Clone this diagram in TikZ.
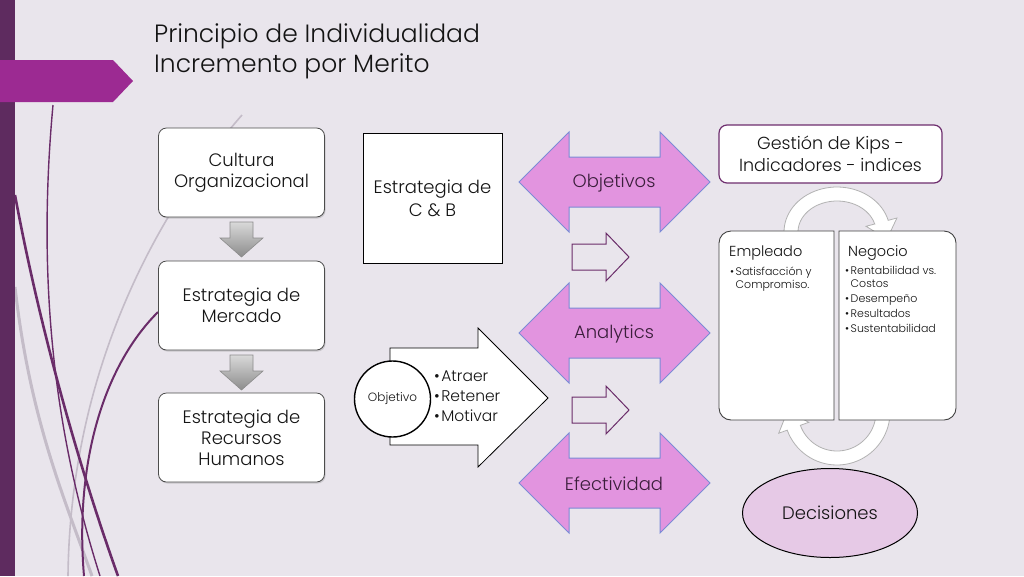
\documentclass[tikz,border=0pt]{standalone}
\usepackage{fontspec}
\setmainfont{Poppins}[UprightFont=* Light, BoldFont=* Regular]
\usetikzlibrary{shadows,shapes.geometric}
\definecolor{bg}{HTML}{E9E5EC}
\definecolor{bar}{HTML}{5E2B5F}
\definecolor{banner}{HTML}{9C2A92}
\definecolor{pinkf}{HTML}{E294DF}
\definecolor{pinkb}{HTML}{7B8BD6}
\definecolor{dtext}{HTML}{3B1E3B}
\definecolor{gestb}{HTML}{6E2E6E}
\definecolor{curvep}{HTML}{6A2C69}
\definecolor{curveg}{HTML}{C4BCC8}
\definecolor{decf}{HTML}{E6C9E6}
\definecolor{txt}{HTML}{141414}
\newcommand\myfs[2]{\fontsize{#1}{#2}\selectfont}
\newcommand\bul{\textbullet\hspace{1.5pt}}
\begin{document}
\begin{tikzpicture}[x=1pt,y=-1pt,
  flowbox/.style={draw=black!70, fill=white, rounded corners=8pt, minimum width=166pt,
    minimum height=89pt, align=center, text=txt, font=\myfs{18}{21}, line width=0.8pt,
    drop shadow={opacity=0.3, shadow xshift=1pt, shadow yshift=-1.5pt}},
  grayarr/.style={draw=black!45, line width=0.6pt, top color=black!15, bottom color=black!45},
  pinkarr/.style={fill=pinkf, draw=pinkb, line width=1pt},
  pinklbl/.style={text=dtext, font=\myfs{18}{20}, inner sep=0pt},
  outarr/.style={fill=bg, draw=curvep, line width=1pt},
  cyc/.style={fill=white, draw=black!30, line width=0.8pt},
  lbl/.style={inner sep=0pt, text=txt, align=left}]
\useasboundingbox (0,0) rectangle (1024,576);
\fill[bg] (0,0) rectangle (1024,576);
% background wisps
\draw[curveg, line width=1.6pt] (242,115) .. controls (150,220) and (70,380) .. (68,576);
\draw[curveg, line width=3pt] (15,287) .. controls (30,420) and (65,500) .. (92,576);
\draw[curvep, line width=1.4pt] (53,105) .. controls (35,300) and (60,450) .. (100,576);
\draw[curvep, line width=2.6pt] (15,195) .. controls (40,330) and (80,470) .. (118,576);
\draw[curvep, line width=2pt] (158,312) .. controls (100,370) and (75,470) .. (84,576);
% left bar and banner
\fill[bar] (0,0) rectangle (15,576);
\fill[banner] (0,60) -- (113,60) -- (133,81) -- (113,102) -- (0,102) -- cycle;
% title
\node[anchor=base west, inner sep=0pt, text=txt, font=\myfs{25}{30}] (t1) at (154,42) {Principio de Individualidad};
\node[anchor=base west, inner sep=0pt, text=txt, font=\myfs{25}{30}] (t2) at (154,72) {Incremento por Merito};
% left column
\node[flowbox] (cultura) at (241.5,172.5) {Cultura\\Organizacional};
\node[flowbox] (mercado) at (241.5,305.5) {Estrategia de\\Mercado};
\node[flowbox] (rrhh) at (241.5,437.5) {Estrategia de\\Recursos\\Humanos};
\foreach \ty in {222,355}{
  \draw[grayarr] (230,\ty) -- (253,\ty) -- (253,\ty+16) -- (263,\ty+16) -- (241.5,\ty+35)
     -- (220,\ty+16) -- (230,\ty+16) -- cycle;
}
% C&B
\node[draw=black, line width=0.8pt, fill=white, minimum width=139pt, minimum height=130pt,
  align=center, text=txt, font=\myfs{18}{23}] (cyb) at (432.5,198) {Estrategia de\\C \& B};
% pink double arrows
\foreach \cy/\nm/\tx in {182/obj/Objetivos,333/ana/Analytics,483/efe/Efectividad}{
  \draw[pinkarr] (519,\cy) -- (569,\cy-50) -- (569,\cy-25) -- (660,\cy-25) -- (660,\cy-50)
    -- (710,\cy) -- (660,\cy+50) -- (660,\cy+25) -- (569,\cy+25) -- (569,\cy+50) -- cycle;
  \node[pinklbl] (\nm) at (614,\cy+1) {\tx};
}
% small outline arrows
\foreach \cy in {257,410}{
  \draw[outarr] (572,\cy-13) -- (606,\cy-13) -- (606,\cy-24) -- (629,\cy) -- (606,\cy+24)
    -- (606,\cy+13) -- (572,\cy+13) -- cycle;
}
% Objetivo arrow
\draw[fill=white, draw=black, line width=0.8pt] (390,348) -- (478,348) -- (478,328) -- (548,398)
  -- (478,467) -- (478,445) -- (390,445) -- cycle;
\node[circle, draw=black, line width=1.4pt, fill=white, minimum size=76pt, inner sep=0pt,
  text=txt, font=\myfs{12}{14}] (objc) at (392.5,399) {Objetivo};
\node[lbl, anchor=west, font=\myfs{15.5}{20}] (objl) at (434,396)
  {\bul Atraer\\\bul Retener\\\bul Motivar};
% cycle arrows
\draw[cyc] plot[domain=0:1,samples=40] ({837+53*cos(185-170*\x)},{232-45*sin(185-170*\x)})
  -- (896.9,218) -- (887,239) -- (866,226.3) -- (874.7,224)
  -- plot[domain=0:1,samples=40] ({837+39*cos(15+170*\x)},{232-31*sin(15+170*\x)}) -- cycle;
\draw[cyc] plot[domain=0:1,samples=40] ({837+53*cos(10-170*\x)},{412-53*sin(10-170*\x)})
  -- (778.7,433.2) -- (787.6,410.8) -- (808.8,422.3) -- (800.4,425.3)
  -- plot[domain=0:1,samples=40] ({837+39*cos(-160+170*\x)},{412-39*sin(-160+170*\x)}) -- cycle;
% Empleado / Negocio
\path[fill=white, draw=black!75, line width=0.9pt] [rounded corners=12pt] (776,231) -- (719,231)
  -- (719,420) -- (776,420) [sharp corners] -- (834,420) -- (834,231) -- cycle;
\path[fill=white, draw=black!75, line width=0.9pt] [rounded corners=12pt] (897,231) -- (956,231)
  -- (956,420) -- (897,420) [sharp corners] -- (839,420) -- (839,231) -- cycle;
\node[lbl, anchor=west, font=\myfs{14.5}{16}] (emp) at (729,253) {Empleado};
\node[lbl, anchor=north west, font=\myfs{11}{13}] (empl) at (730,267)
  {\bul Satisfacción y\\\phantom{\bul}Compromiso.};
\node[lbl, anchor=west, font=\myfs{14.5}{16}] (neg) at (848,253) {Negocio};
\node[lbl, anchor=north west, font=\myfs{11}{13}] (negl) at (845,266)
  {\bul Rentabilidad vs.\\\phantom{\bul}Costos\\[2pt]\bul Desempeño\\[2pt]\bul Resultados\\[2pt]\bul Sustentabilidad};
% Gestion
\node[draw=gestb, line width=1.2pt, fill=white, rounded corners=8pt, minimum width=223pt,
  minimum height=58pt, align=center, text=txt, font=\myfs{17.5}{22}] (gest) at (830.5,154)
  {Gestión de Kips -\\Indicadores - indices};
% Decisiones
\node[ellipse, draw=black, line width=1pt, fill=decf, minimum width=175pt, minimum height=89pt,
  text=txt, font=\myfs{18}{20}] (dec) at (830,513) {Decisiones};
\end{tikzpicture}
\end{document}
